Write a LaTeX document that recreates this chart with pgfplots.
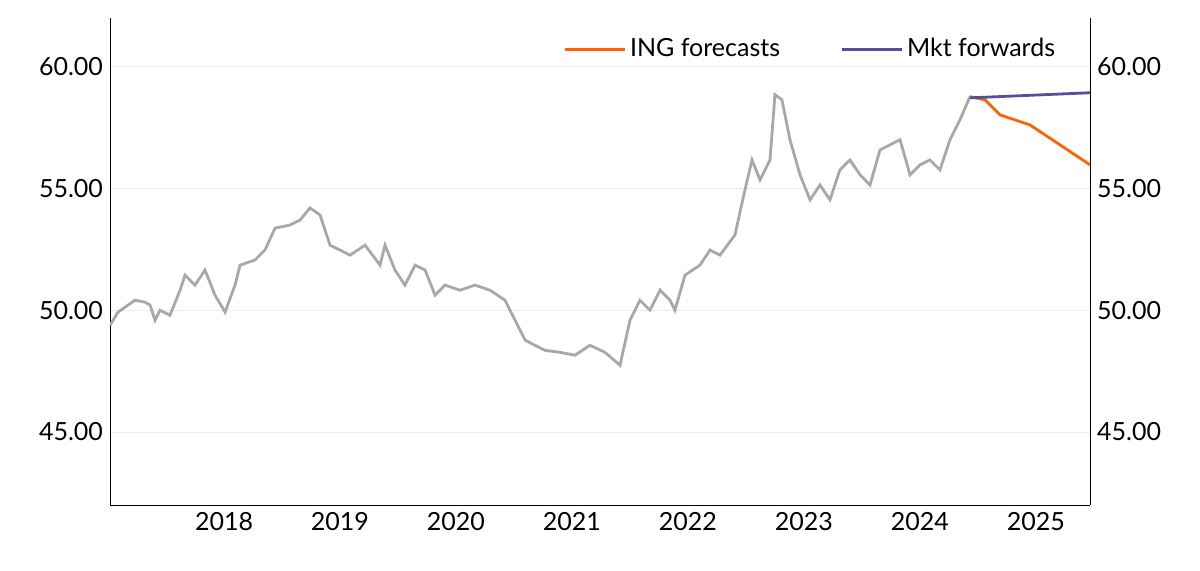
\documentclass[border=0pt]{standalone}
\usepackage{pgfplots}
\pgfplotsset{compat=1.18}
\usepackage{fontspec}
\setmainfont{Lato}
\definecolor{ingorange}{HTML}{FF6200}
\definecolor{ingpurple}{HTML}{525199}
\definecolor{ggray}{HTML}{A8A8A8}
\begin{document}
\begin{tikzpicture}
\useasboundingbox (-55pt,-33pt) rectangle (545pt,252.5pt);
\pgfplotsset{every axis/.style={scale only axis, width=490pt, height=243.5pt,
  xmin=2017.017, xmax=2025.466, ymin=42, ymax=62,
  ytick={45,50,55,60}, yticklabel style={/pgf/number format/.cd,fixed,fixed zerofill,precision=2},
  /pgf/number format/assume math mode=true,
  tick label style={font=\fontsize{12.5}{14}\selectfont},
  major tick length=0pt}}
\begin{axis}[
  axis x line*=bottom, axis y line*=left,
  xtick={2018,...,2025}, xticklabel style={/pgf/number format/1000 sep={}},
  ymajorgrids, grid style={gray!15},
  axis line style={black},
  legend style={draw=none, fill=none, at={(0.975,0.975)}, anchor=north east, legend columns=2,
    font=\fontsize{12.5}{14}\selectfont, /tikz/every even column/.append style={column sep=28pt}},
  legend cell align=left, legend image post style={line width=1.5pt},
  legend image code/.code={\draw[#1] (0pt,0pt) -- (30pt,0pt);}
]
\addplot[ggray, line width=1.4pt, forget plot] coordinates {
(2017.017,49.38)(2017.086,49.92)(2017.172,50.21)(2017.233,50.41)(2017.319,50.33)(2017.362,50.21)
(2017.405,49.59)(2017.448,50.0)(2017.534,49.79)(2017.621,50.82)(2017.664,51.44)(2017.750,51.03)
(2017.836,51.65)(2017.922,50.62)(2018.009,49.92)(2018.095,51.03)(2018.138,51.85)(2018.267,52.06)
(2018.353,52.47)(2018.440,53.37)(2018.569,53.50)(2018.655,53.70)(2018.741,54.20)(2018.828,53.91)
(2018.914,52.67)(2019.000,52.47)(2019.086,52.26)(2019.216,52.67)(2019.345,51.85)(2019.388,52.67)
(2019.474,51.65)(2019.560,51.03)(2019.647,51.85)(2019.733,51.65)(2019.819,50.62)(2019.905,51.03)
(2020.034,50.82)(2020.164,51.03)(2020.293,50.82)(2020.422,50.41)(2020.509,49.59)(2020.595,48.77)
(2020.681,48.56)(2020.767,48.35)(2020.897,48.27)(2021.026,48.15)(2021.155,48.56)(2021.284,48.27)
(2021.414,47.74)(2021.500,49.59)(2021.586,50.41)(2021.672,50.0)(2021.759,50.82)(2021.845,50.41)
(2021.888,50.0)(2021.974,51.44)(2022.103,51.85)(2022.190,52.47)(2022.276,52.26)(2022.405,53.09)
(2022.491,54.94)(2022.552,56.17)(2022.621,55.35)(2022.707,56.17)(2022.750,58.85)(2022.810,58.64)
(2022.879,57.00)(2022.966,55.56)(2023.052,54.53)(2023.138,55.14)(2023.224,54.53)(2023.310,55.76)
(2023.397,56.17)(2023.483,55.56)(2023.569,55.14)(2023.655,56.58)(2023.741,56.79)(2023.828,57.00)
(2023.914,55.56)(2024.000,55.97)(2024.086,56.17)(2024.172,55.76)(2024.259,57.00)(2024.345,57.82)
(2024.431,58.77)};
\addplot[ingorange, line width=1.4pt] coordinates {(2024.431,58.77)(2024.560,58.64)(2024.690,58.02)(2024.948,57.61)(2025.466,55.97)};
\addlegendentry{ING forecasts}
\addplot[ingpurple, line width=1.4pt] coordinates {(2024.431,58.72)(2025.466,58.93)};
\addlegendentry{Mkt forwards}
\end{axis}
\begin{axis}[axis x line=none, axis y line*=right, axis line style={black}]
\end{axis}
\end{tikzpicture}
\end{document}
